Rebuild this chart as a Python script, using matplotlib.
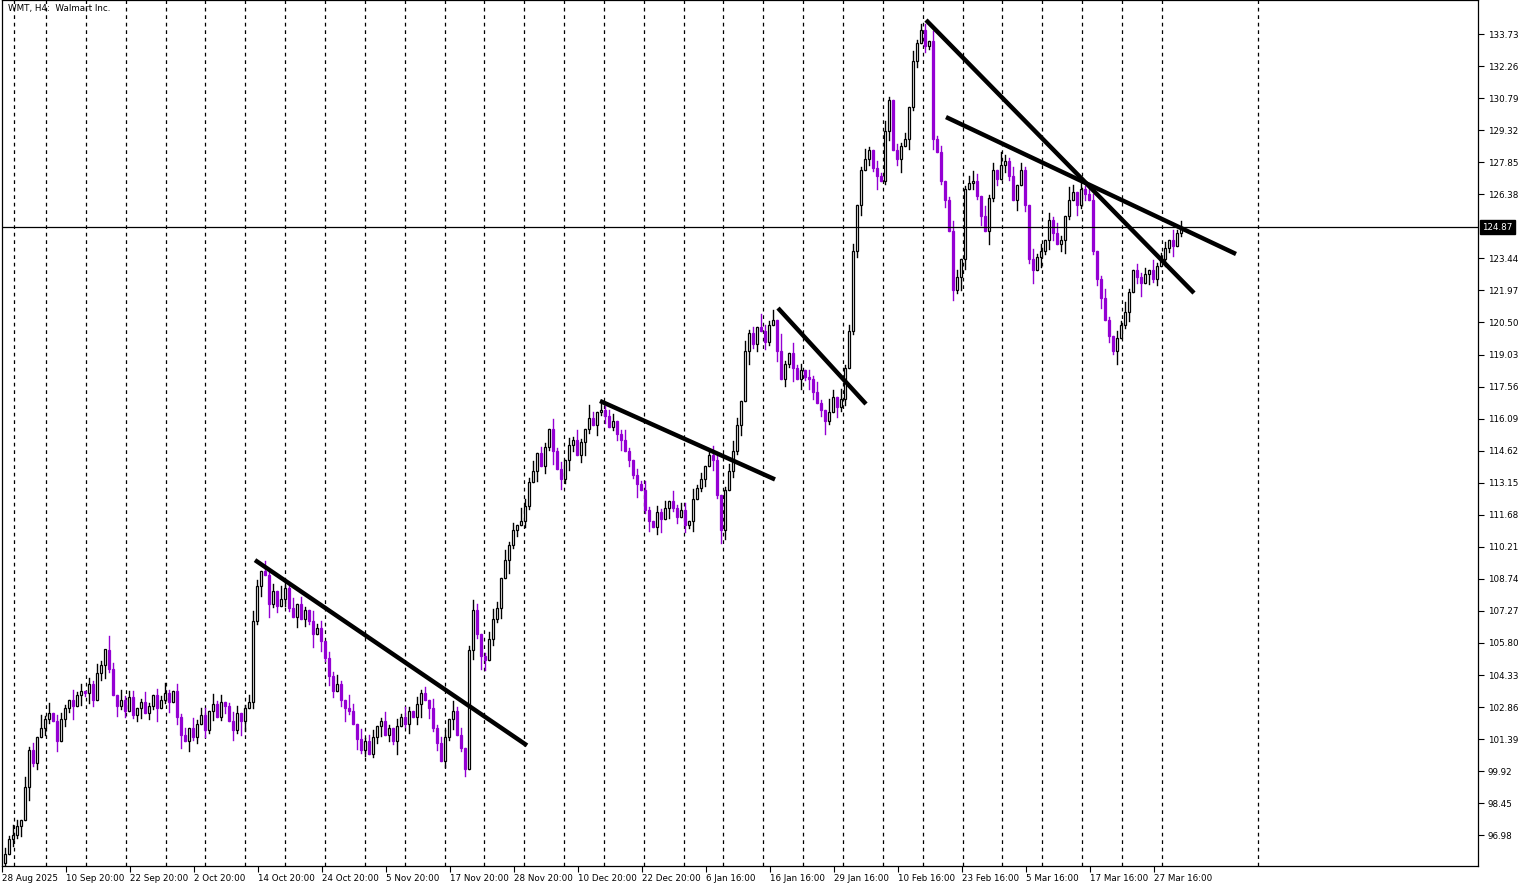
import matplotlib
matplotlib.use("Agg")
import matplotlib.pyplot as plt
import numpy as np

closes = [
    96.1, 96.8, 97.0, 97.4, 97.7, 99.2, 100.9, 100.3, 101.5, 101.9,
    102.3, 102.6, 102.2, 101.3, 102.3, 102.8, 103.2, 102.9, 103.4, 103.6,
    103.5, 103.9, 103.2, 104.4, 104.8, 105.5, 104.6, 103.4, 102.9, 103.2,
    102.7, 103.3, 102.5, 102.8, 103.1, 102.6, 102.9, 103.4, 102.8, 103.2,
    103.5, 103.1, 103.6, 102.4, 101.6, 101.3, 101.9, 101.5, 102.1, 102.5,
    101.8, 102.7, 103.0, 102.4, 103.1, 102.9, 102.2, 101.8, 102.6, 102.2,
    102.8, 103.1, 106.8, 108.4, 109.1, 108.9, 107.6, 108.2, 107.5, 107.8,
    108.3, 107.4, 107.0, 107.6, 106.9, 107.3, 106.8, 106.2, 106.5, 105.9,
    105.1, 104.3, 103.6, 103.9, 103.2, 102.8, 102.7, 102.1, 101.4, 100.9,
    101.3, 100.7, 101.5, 102.0, 102.2, 101.6, 101.9, 101.3, 102.0, 102.4,
    102.1, 102.7, 102.4, 103.0, 103.5, 103.2, 102.8, 101.9, 101.2, 100.4,
    101.5, 102.3, 102.7, 101.6, 101.0, 100.0, 105.5, 107.3, 106.2, 105.2,
    105.0, 106.0, 106.9, 107.4, 108.8, 109.6, 110.3, 111.0, 111.2, 111.4,
    112.1, 113.2, 113.7, 114.5, 113.9, 114.8, 115.6, 114.6, 113.8, 113.3,
    114.2, 114.9, 115.1, 114.4, 115.0, 115.6, 116.1, 115.8, 116.4, 116.5,
    116.2, 115.7, 116.0, 115.4, 115.1, 114.6, 114.2, 113.5, 113.1, 112.8,
    111.9, 111.4, 111.1, 111.8, 111.5, 112.0, 112.3, 112.0, 111.6, 111.9,
    111.2, 111.4, 112.4, 112.9, 113.3, 113.9, 114.4, 114.2, 112.6, 111.0,
    112.8, 113.7, 114.6, 115.8, 116.9, 119.2, 120.0, 119.5, 120.3, 120.1,
    119.6, 120.4, 120.6, 119.2, 117.9, 118.6, 119.1, 118.4, 117.9, 118.3,
    118.0, 117.9, 117.3, 116.8, 116.5, 116.0, 116.4, 117.1, 116.6, 117.0,
    118.4, 120.1, 123.8, 125.9, 127.5, 128.0, 128.4, 127.6, 127.2, 127.0,
    129.3, 130.7, 128.4, 128.0, 128.6, 128.9, 130.4, 132.5, 133.3, 133.9,
    133.2, 133.4, 128.9, 128.3, 127.0, 126.1, 124.7, 122.0, 122.6, 123.4,
    126.6, 126.9, 127.0, 126.3, 125.4, 124.7, 126.2, 127.5, 127.1, 127.7,
    127.9, 127.2, 126.1, 126.8, 127.5, 125.9, 123.4, 122.9, 123.5, 123.8,
    124.3, 125.2, 124.6, 124.1, 124.3, 125.4, 126.1, 126.5, 125.9, 126.6,
    126.4, 126.1, 123.8, 122.5, 121.6, 120.6, 119.9, 119.2, 119.8, 120.4,
    121.0, 121.9, 122.9, 122.6, 122.3, 122.7, 122.9, 122.5, 123.1, 123.4,
    123.9, 124.3, 124.0, 124.6, 124.87,
]
first_open = 95.7
# wick lengths in tenths of a dollar, one digit per candle
wick_up = ("2132031204" "1302210312" "0213104203" "1220131021" "3102120312"
           "2031201320" "1232031204" "2130210312" "0213104203" "1220131021"
           "3102120312" "2031201320" "1232031204" "2130210312" "0213104203"
           "1220131021" "3102120312" "2031201320" "1232031204" "2130510312"
           "0213104203" "1220131021" "3102120312" "2031201320" "1232031204"
           "2130210312" "0213104203" "1220131021" "3102120312" "2031204")
wick_dn = ("3021304120" "2103021403" "1320241031" "2012302140" "1302403120"
           "2130120314" "3021304120" "2103021403" "1320241031" "2012302140"
           "1302403120" "2130120314" "3021304120" "2103021403" "1320241031"
           "2012302140" "1302403120" "2130120314" "3021304120" "2103021403"
           "1320241031" "2012302140" "1302403120" "2130120314" "3021304120"
           "2103021403" "1320241031" "2012302140" "1302403120" "2130120")

price_ticks = [96.98, 98.45, 99.92, 101.39, 102.86, 104.33, 105.80, 107.27, 108.74,
               110.21, 111.68, 113.15, 114.62, 116.09, 117.56, 119.03, 120.50,
               121.97, 123.44, 126.38, 127.85, 129.32, 130.79, 132.26, 133.73]
date_labels = ["28 Aug 2025", "10 Sep 20:00", "22 Sep 20:00", "2 Oct 20:00",
               "14 Oct 20:00", "24 Oct 20:00", "5 Nov 20:00", "17 Nov 20:00",
               "28 Nov 20:00", "10 Dec 20:00", "22 Dec 20:00", "6 Jan 16:00",
               "16 Jan 16:00", "29 Jan 16:00", "10 Feb 16:00", "23 Feb 16:00",
               "5 Mar 16:00", "17 Mar 16:00", "27 Mar 16:00"]
last_price = 124.87

# trend lines: (index, price) endpoints
trend_lines = [
    ((62.5, 109.6), (130.5, 101.1)),
    ((148.75, 116.9), (192.5, 113.3)),
    ((193.25, 121.16), (215.25, 116.76)),
    ((230.25, 134.37), (297.25, 121.85)),
    ((235.25, 129.92), (307.75, 123.64)),
]

purple = "#9400D3"
n = len(closes)
opens = [first_open] + closes[:-1]

fig = plt.figure(figsize=(15.26, 8.88), dpi=100)
ax = fig.add_axes([2 / 1526, 22 / 888, 1476 / 1526, 866 / 888])

ax.set_xlim(-0.75, 368.25)
ax.set_ylim(95.57, 135.29)


def px_to_idx(px):
    return (px - 5) / 4


# day separators (pixel positions along the time axis)
sep_px = [14] + [46 + 39.85 * k for k in range(29)] + [1258]
for p in sep_px:
    ax.axvline(px_to_idx(p), color="black", lw=0.9, ls=(0, (3, 3)), zorder=1)

for i in range(n):
    o, c = opens[i], closes[i]
    hi = max(o, c) + int(wick_up[i]) * 0.15
    lo = min(o, c) - int(wick_dn[i]) * 0.15
    bull = c >= o
    col = "black" if bull else purple
    ax.plot([i, i], [lo, hi], color=col, lw=1.0, zorder=2)
    h = max(abs(c - o), 0.05)
    ax.add_patch(plt.Rectangle((i - 0.35, min(o, c)), 0.7, h,
                               facecolor="white" if bull else purple,
                               edgecolor=col, lw=0.9, zorder=3))

for (x0, y0), (x1, y1) in trend_lines:
    ax.plot([x0, x1], [y0, y1], color="black", lw=3.2, solid_capstyle="butt", zorder=4)

ax.axhline(last_price, color="black", lw=0.9, zorder=4)

ax.yaxis.tick_right()
ax.set_yticks(price_ticks)
ax.set_yticklabels([f"{p:.2f}" for p in price_ticks], fontsize=6.3)
ax.tick_params(axis="y", length=4, pad=3)
ax.text(1.003, (last_price - 95.57) / (135.29 - 95.57), f"{last_price:.2f}",
        transform=ax.transAxes, fontsize=6.3, color="white", va="center", ha="left",
        bbox=dict(boxstyle="square,pad=0.25", fc="black", ec="black"))

tick_idx = [px_to_idx(2 + 64 * k) for k in range(len(date_labels))]
ax.set_xticks(tick_idx)
ax.set_xticklabels(date_labels, fontsize=6.3, ha="left")
ax.tick_params(axis="x", length=4, pad=2)

ax.text(0.004, 0.995, "WMT, H4:  Walmart Inc.", transform=ax.transAxes,
        fontsize=6.3, va="top", ha="left")

for s in ax.spines.values():
    s.set_linewidth(0.9)

fig.savefig("out.png", dpi=100)
